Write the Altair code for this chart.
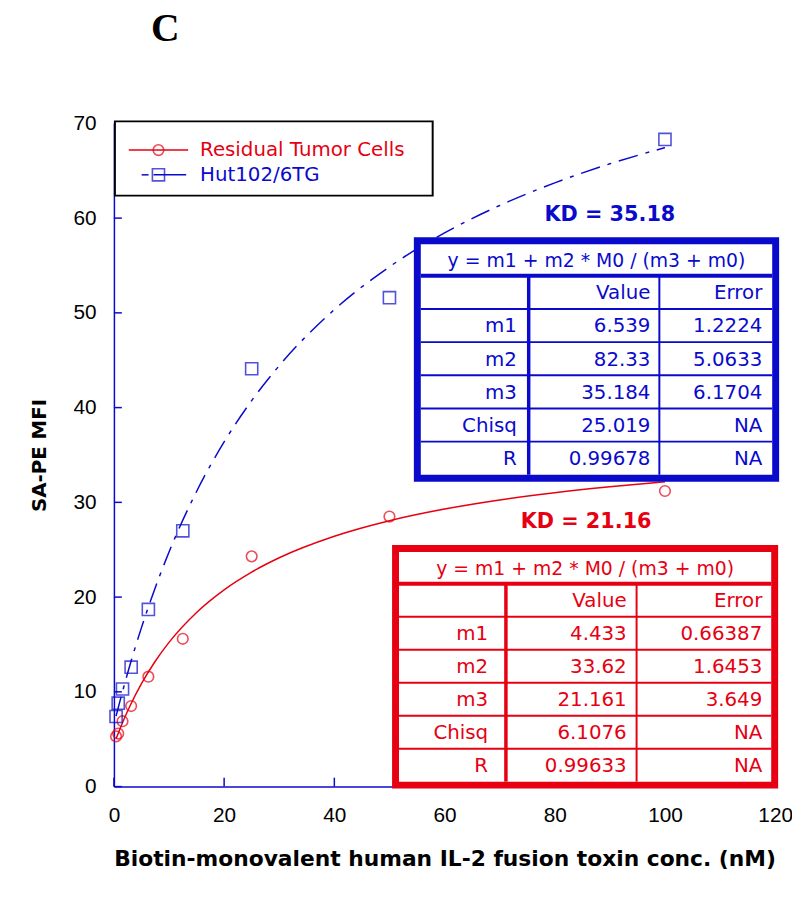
import altair as alt
import pandas as pd

# ---------------- data ----------------
conc = [0.39, 0.78, 1.56, 3.125, 6.25, 12.5, 25, 50, 100]
red_mfi = [5.3, 5.6, 6.9, 8.5, 11.6, 15.6, 24.3, 28.5, 31.2]
blue_mfi = [7.4, 8.8, 10.3, 12.6, 18.7, 27.0, 44.1, 51.6, 68.3]

fit_x = [0.39, 1, 2, 3, 5, 7.5, 10, 15, 20, 25, 30, 40, 50, 60, 70, 80, 90, 100]
red_fit = [5.04, 5.95, 7.34, 8.61, 10.86, 13.23, 15.22, 18.38, 20.77, 22.64,
           24.15, 26.42, 28.06, 29.29, 30.25, 31.02, 31.65, 32.18]
blue_fit = [7.44, 8.81, 10.97, 13.01, 16.78, 21.00, 24.76, 31.15, 36.38, 40.74,
            44.43, 50.34, 54.86, 58.44, 61.33, 63.72, 65.73, 67.44]

x_ticks = [0, 20, 40, 60, 80, 100, 120]
y_ticks = [0, 10, 20, 30, 40, 50, 60, 70]

series_names = ["Residual Tumor Cells", "Hut102/6TG"]
equation = "y = m1 + m2 * M0 / (m3 + m0)"
header = ["", "Value", "Error"]
row_names = ["m1", "m2", "m3", "Chisq", "R"]
red_values = ["4.433", "33.62", "21.161", "6.1076", "0.99633"]
red_errors = ["0.66387", "1.6453", "3.649", "NA", "NA"]
blue_values = ["6.539", "82.33", "35.184", "25.019", "0.99678"]
blue_errors = ["1.2224", "5.0633", "6.1704", "NA", "NA"]
red_kd = "KD = 21.16"
blue_kd = "KD = 35.18"
panel_label = "C"
x_title = "Biotin-monovalent human IL-2 fusion toxin conc. (nM)"
y_title = "SA-PE MFI"

# ---------------- style ----------------
RED = "#E60012"
BLUE = "#0A0ACC"
FONT = "Liberation Sans"
WFONT = "DejaVu Sans"
W, H = 668, 670
OX, OY = 115, 120  # page position of plot origin

def px(v):
    return v - OX

def py(v):
    return v - OY

X = alt.X("x:Q", scale=alt.Scale(domain=[0, 120], nice=False, zero=False))
Y = alt.Y("y:Q", scale=alt.Scale(domain=[0, 70], nice=False, zero=False))

pts_red = pd.DataFrame({"x": conc, "y": red_mfi})
pts_blue = pd.DataFrame({"x": conc, "y": blue_mfi})
fit_red = pd.DataFrame({"x": fit_x, "y": red_fit})
fit_blue = pd.DataFrame({"x": fit_x, "y": blue_fit})

base_axes = alt.Chart(pd.DataFrame({"x": [0, 120], "y": [0, 70]})).mark_point(opacity=0).encode(
    x=alt.X("x:Q", scale=alt.Scale(domain=[0, 120], nice=False, zero=False),
            axis=alt.Axis(values=x_ticks, ticks=False, grid=False, domainColor=BLUE, domainWidth=1.5,
                          labelFont=FONT, labelFontSize=21, labelColor="black", labelPadding=18,
                          title=x_title, titleFont=WFONT, titleFontSize=22, titleFontWeight="bold",
                          titleColor="black", titlePadding=24, labelFlush=False)),
    y=alt.Y("y:Q", scale=alt.Scale(domain=[0, 70], nice=False, zero=False),
            axis=alt.Axis(values=y_ticks, ticks=False, grid=False, domainColor=BLUE, domainWidth=1.5,
                          labelFont=FONT, labelFontSize=21, labelColor="black", labelPadding=18,
                          title=y_title, titleFont=WFONT, titleFontSize=20, titleFontWeight="bold",
                          titleColor="black", titlePadding=24)),
)

ytick_layer = alt.Chart(pd.DataFrame({"y": y_ticks})).mark_rule(color=BLUE, strokeWidth=1.5).encode(
    y=Y, x=alt.value(0), x2=alt.value(8))
xtick_layer = alt.Chart(pd.DataFrame({"x": x_ticks})).mark_rule(color=BLUE, strokeWidth=1.5).encode(
    x=X, y=alt.value(H), y2=alt.value(H - 9))

line_red = alt.Chart(fit_red).mark_line(color=RED, strokeWidth=1.5, interpolate="monotone").encode(x=X, y=Y)
line_blue = alt.Chart(fit_blue).mark_line(color=BLUE, strokeWidth=1.5, interpolate="monotone",
                                          strokeDash=[20, 8, 4, 8]).encode(x=X, y=Y)
dots_red = alt.Chart(pts_red).mark_point(shape="circle", filled=False, color=RED, size=115,
                                         strokeWidth=1.6).encode(x=X, y=Y)
dots_blue = alt.Chart(pts_blue).mark_point(shape="square", filled=False, color=BLUE, size=150,
                                           strokeWidth=1.6).encode(x=X, y=Y)

PX = lambda f: alt.X(f, type="quantitative", scale=None, axis=None)
PY = lambda f: alt.Y(f, type="quantitative", scale=None, axis=None)

# ---------------- tables ----------------
rects, rules, txt_right, txt_center, txt_bold = [], [], [], [], []

def build_table(box, c1, c2, r1, r2, r3, color, values, errors, kd, kd_pos):
    x0, y0, x1, y1 = box
    bw = 7
    rects.append(dict(x=px(x0 + bw / 2), x2=px(x1 - bw / 2), y=py(y0 + bw / 2), y2=py(y1 - bw / 2),
                      c=color, w=bw, f="white"))
    il, ir, it, ib = x0 + bw, x1 - bw, y0 + bw, y1 - bw
    tl = it + 32
    rh = (ib - tl) / 6
    rules.append(dict(x=px(il), x2=px(ir), y=py(tl), y2=py(tl), c=color, w=4))
    for k in range(1, 6):
        yy = tl + k * rh
        rules.append(dict(x=px(il), x2=px(ir), y=py(yy), y2=py(yy), c=color, w=2))
    rules.append(dict(x=px(c1), x2=px(c1), y=py(tl), y2=py(ib), c=color, w=3.5))
    rules.append(dict(x=px(c2), x2=px(c2), y=py(tl), y2=py(ib), c=color, w=2))
    txt_center.append(dict(x=px((x0 + x1) / 2), y=py((it + tl) / 2 + 1), t=equation, c=color))
    txt_bold.append(dict(x=px(kd_pos[0]), y=py(kd_pos[1]), t=kd, c=color))
    rows = [header] + [[n, v, e] for n, v, e in zip(row_names, values, errors)]
    for k, row in enumerate(rows):
        yy = tl + (k + 0.5) * rh + 1
        for txt, rx in zip(row, [r1, r2, r3]):
            if txt:
                txt_right.append(dict(x=px(rx), y=py(yy), t=txt, c=color))

build_table((418, 235, 787, 482), 534, 666, 522, 657, 770, BLUE, blue_values, blue_errors, blue_kd, (616, 213))
build_table((396, 546, 786, 792), 511, 643, 493, 633, 770, RED, red_values, red_errors, red_kd, (592, 523))

# legend box
rects.append(dict(x=px(116), x2=px(437), y=py(118), y2=py(193), c="black", w=2, f="white"))
rules.append(dict(x=px(130), x2=px(190), y=py(147), y2=py(147), c=RED, w=1.5))
rules.append(dict(x=px(143), x2=px(150), y=py(172), y2=py(172), c=BLUE, w=1.5))
rules.append(dict(x=px(155), x2=px(188), y=py(172), y2=py(172), c=BLUE, w=1.5))

rect_layer = alt.Chart(pd.DataFrame(rects)).mark_rect().encode(
    x=PX("x"), x2="x2", y=PY("y"), y2="y2",
    stroke=alt.Stroke("c:N", scale=None), strokeWidth=alt.StrokeWidth("w:Q", scale=None),
    fill=alt.Fill("f:N", scale=None))
rule_layer = alt.Chart(pd.DataFrame(rules)).mark_rule().encode(
    x=PX("x"), x2="x2", y=PY("y"), y2="y2",
    color=alt.Color("c:N", scale=None), strokeWidth=alt.StrokeWidth("w:Q", scale=None))
tr_layer = alt.Chart(pd.DataFrame(txt_right)).mark_text(align="right", baseline="middle", font=WFONT,
                                                         fontSize=20).encode(
    x=PX("x"), y=PY("y"), text="t:N", color=alt.Color("c:N", scale=None))
tc_layer = alt.Chart(pd.DataFrame(txt_center)).mark_text(align="center", baseline="middle", font=WFONT,
                                                          fontSize=19).encode(
    x=PX("x"), y=PY("y"), text="t:N", color=alt.Color("c:N", scale=None))
tb_layer = alt.Chart(pd.DataFrame(txt_bold)).mark_text(align="center", baseline="middle", font=WFONT,
                                                        fontSize=21, fontWeight="bold").encode(
    x=PX("x"), y=PY("y"), text="t:N", color=alt.Color("c:N", scale=None))

leg_pts = pd.DataFrame({"x": [px(160), px(160)], "y": [py(147), py(172)], "sh": ["circle", "square"],
                        "c": [RED, BLUE], "sz": [115, 150]})
leg_pt_layer = alt.Chart(leg_pts).mark_point(filled=False, strokeWidth=1.6).encode(
    x=PX("x"), y=PY("y"), shape=alt.Shape("sh:N", scale=None), color=alt.Color("c:N", scale=None),
    size=alt.Size("sz:Q", scale=None))
leg_txt = pd.DataFrame({"x": [px(202), px(202)], "y": [py(147), py(172)], "t": series_names, "c": [RED, BLUE]})
leg_txt_layer = alt.Chart(leg_txt).mark_text(align="left", baseline="middle", font=WFONT, fontSize=20).encode(
    x=PX("x"), y=PY("y"), text="t:N", color=alt.Color("c:N", scale=None))

panel = alt.Chart(pd.DataFrame({"x": [px(167)], "y": [py(37)], "t": [panel_label]})).mark_text(
    align="center", baseline="alphabetic", font="Liberation Serif", fontSize=40, fontWeight="bold",
    color="black").encode(x=PX("x"), y=PY("y"), text="t:N")

chart = alt.layer(
    base_axes, ytick_layer, xtick_layer, line_red, line_blue, dots_red, dots_blue,
    rect_layer, rule_layer, tr_layer, tc_layer, tb_layer, leg_pt_layer, leg_txt_layer, panel
).properties(
    width=W, height=H,
    autosize=alt.AutoSizeParams(type="none"),
    padding={"left": 107, "top": 112, "right": 17, "bottom": 108},
    background="white",
).configure_view(stroke=None)

chart.save("out.html", embed_options={"renderer": "svg", "actions": False})
